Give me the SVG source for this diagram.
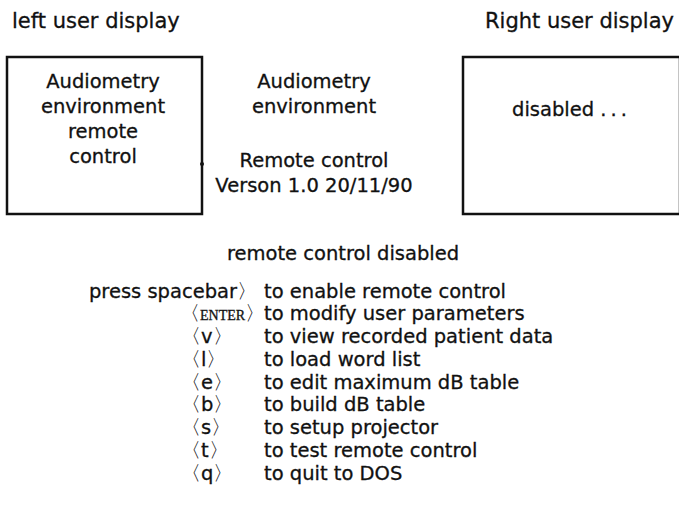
<svg xmlns="http://www.w3.org/2000/svg" width="679" height="519" viewBox="0 0 679 519">
  <style>
    text { font-family: "DejaVu Sans", "Liberation Sans", sans-serif; font-size: 19.5px; fill: #111; stroke: #111; stroke-width: 0.3; }
    .cap { font-size: 21px; }
    .mid { text-anchor: middle; }
    .end { text-anchor: end; }
    .screen { fill: #fff; stroke: #111; stroke-width: 2.5; }
    .sc { font-family: "Liberation Serif", "DejaVu Serif", serif; font-size: 14px; }
    .br { stroke-width: 0; }
  </style>
  <rect width="679" height="519" fill="#fff"/>

  <!-- display captions -->
  <g id="left-caption">
    <text class="cap" x="12" y="28">left user display</text>
  </g>
  <g id="right-caption">
    <text class="cap end" x="674" y="28">Right user display</text>
  </g>

  <!-- left user display -->
  <g id="left-display">
    <rect class="screen" x="7" y="57" width="195" height="157"/>
    <text class="mid" x="103" y="88">Audiometry</text>
    <text class="mid" x="103" y="113">environment</text>
    <text class="mid" x="103" y="138">remote</text>
    <text class="mid" x="103" y="163">control</text>
    <circle cx="202" cy="164" r="2" fill="#111"/>
  </g>

  <!-- program banner -->
  <g id="banner">
    <text class="mid" x="314" y="88">Audiometry</text>
    <text class="mid" x="314" y="113">environment</text>
    <text class="mid" x="314" y="167">Remote control</text>
    <text class="mid" x="314" y="192">Verson 1.0 20/11/90</text>
  </g>

  <!-- right user display -->
  <g id="right-display">
    <rect class="screen" x="463" y="57" width="217" height="157"/>
    <text x="512" y="116">disabled <tspan letter-spacing="4">...</tspan></text>
  </g>

  <!-- status line -->
  <g id="status">
    <text class="mid" x="343" y="260">remote control disabled</text>
  </g>

  <!-- key menu -->
  <g id="menu">
    <text class="end" x="257" y="298">press spacebar<tspan class="br">〉</tspan></text>
    <text x="180" y="320"><tspan class="br">〈</tspan><tspan class="sc">ENTER</tspan><tspan class="br">〉</tspan></text>
    <text x="181" y="343"><tspan class="br">〈</tspan>v<tspan class="br">〉</tspan></text>
    <text x="181" y="366"><tspan class="br">〈</tspan>l<tspan class="br">〉</tspan></text>
    <text x="181" y="389"><tspan class="br">〈</tspan>e<tspan class="br">〉</tspan></text>
    <text x="181" y="411"><tspan class="br">〈</tspan>b<tspan class="br">〉</tspan></text>
    <text x="181" y="434"><tspan class="br">〈</tspan>s<tspan class="br">〉</tspan></text>
    <text x="181" y="457"><tspan class="br">〈</tspan>t<tspan class="br">〉</tspan></text>
    <text x="181" y="480"><tspan class="br">〈</tspan>q<tspan class="br">〉</tspan></text>

    <text x="264" y="298">to enable remote control</text>
    <text x="264" y="320">to modify user parameters</text>
    <text x="264" y="343">to view recorded patient data</text>
    <text x="264" y="366">to load word list</text>
    <text x="264" y="389">to edit maximum dB table</text>
    <text x="264" y="411">to build dB table</text>
    <text x="264" y="434">to setup projector</text>
    <text x="264" y="457">to test remote control</text>
    <text x="264" y="480">to quit to DOS</text>
  </g>
</svg>
